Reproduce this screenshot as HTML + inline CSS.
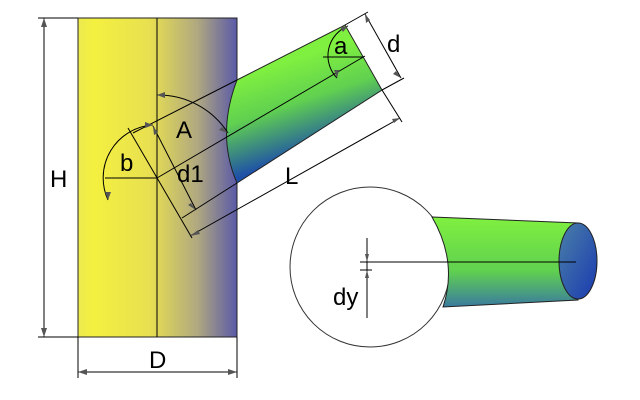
<!DOCTYPE html>
<html><head><style>body{margin:0;background:#fff}svg{display:block}text{font-family:"Liberation Sans",sans-serif;fill:#000}</style></head><body>
<svg width="640" height="400" viewBox="0 0 640 400" xmlns="http://www.w3.org/2000/svg">
<defs>
<linearGradient id="cyl" x1="0" y1="0" x2="1" y2="0">
<stop offset="0" stop-color="#ecea50"/><stop offset="0.1" stop-color="#f4f040"/><stop offset="0.45" stop-color="#e8e050"/><stop offset="0.75" stop-color="#b0a880"/><stop offset="1" stop-color="#5a5aa8"/></linearGradient>
<linearGradient id="br" gradientUnits="userSpaceOnUse" x1="290" y1="60" x2="320" y2="150">
<stop offset="0" stop-color="#80f040"/><stop offset="0.45" stop-color="#60d050"/><stop offset="1" stop-color="#1e50a8"/></linearGradient>
<linearGradient id="sp" x1="0" y1="0" x2="0" y2="1">
<stop offset="0" stop-color="#80f040"/><stop offset="0.6" stop-color="#60d050"/><stop offset="1" stop-color="#3a7aa0"/></linearGradient>
<linearGradient id="el" x1="0" y1="0" x2="1" y2="1">
<stop offset="0" stop-color="#4a80a8"/><stop offset="1" stop-color="#1a3ab0"/></linearGradient>
</defs>
<g stroke="#000" stroke-width="1" fill="none">
<rect x="78" y="18" width="159" height="319" fill="url(#cyl)" stroke="#222"/>
<line x1="157" y1="18" x2="157" y2="337"/>
<line x1="38" y1="18" x2="78" y2="18"/><line x1="38" y1="337" x2="78" y2="337"/>
<line x1="44" y1="18" x2="44" y2="337"/>
<line x1="78" y1="337" x2="78" y2="378"/><line x1="237" y1="337" x2="237" y2="378"/>
<line x1="78" y1="372" x2="237" y2="372"/>
<path d="M237,80 L345,25 L382,90 L237,183 Q216,135 237,80 Z" fill="url(#br)" stroke="#222"/>
<line x1="157" y1="178" x2="365" y2="56"/>
<line x1="133" y1="133" x2="237" y2="80"/>
<line x1="182" y1="218" x2="237" y2="183"/>
<line x1="128" y1="128" x2="192" y2="238"/>
<line x1="153" y1="126" x2="196" y2="210"/>
<line x1="345" y1="25" x2="368" y2="12"/><line x1="382" y1="90" x2="404" y2="78"/>
<line x1="365" y1="14" x2="401" y2="78"/>
<line x1="382" y1="90" x2="402" y2="122"/>
<line x1="190" y1="236" x2="400" y2="118"/>
<path d="M157,95 A83,83 0 0 1 228,133"/>
<path d="M153,125 A53,53 0 0 0 108,200"/>
<line x1="105" y1="178" x2="157" y2="178"/>
<line x1="323" y1="57" x2="363" y2="57"/>
<path d="M348,26 A32,32 0 0 0 337,78"/>
<circle cx="370" cy="267" r="80" fill="#fff" stroke="#333"/>
<path d="M432,217 L578,223 L578,300 L443,307 Q458,262 432,217 Z" fill="url(#sp)" stroke="#222"/>
<ellipse cx="578" cy="261" rx="19" ry="38" fill="url(#el)" stroke="#222"/>
<line x1="360" y1="262" x2="576" y2="262"/>
<line x1="360" y1="270" x2="372" y2="270"/>
<line x1="367" y1="238" x2="367" y2="318"/>
</g>
<g fill="#555">
<path d="M44,18 l-3,9 l6,0z"/><path d="M44,337 l-3,-9 l6,0z"/>
<path d="M78,372 l9,-3 l0,6z"/><path d="M237,372 l-9,-3 l0,6z"/>
<path d="M365,14 l1,9 l4,-3z"/><path d="M401,78 l-5,-7 l-3,3z"/>
<path d="M190,236 l8,-6 l2,4z"/><path d="M400,118 l-8,1 l2,4z"/>
<path d="M153,126 l1,9 l4,-2z"/><path d="M196,210 l-5,-7 l-3,2z"/>
<path d="M157,95 l8,-3 l0,6z"/><path d="M228,133 l-6,-6 l-3,3z"/>
<path d="M153,125 l-8,-3 l0,6z"/><path d="M108,200 l-3,-8 l6,0z"/>
<path d="M348,26 l-8,1 l3,5z"/><path d="M337,78 l-3,-8 l5,0z"/>
<path d="M367,262 l-2,-8 l4,0z"/><path d="M367,270 l-2,8 l4,0z"/>
</g>
<g font-size="24">
<text x="50" y="187">H</text>
<text x="149" y="368">D</text>
<text x="176" y="138">A</text>
<text x="120" y="171">b</text>
<text x="177" y="182">d1</text>
<text x="285" y="184">L</text>
<text x="334" y="54">a</text>
<text x="387" y="52">d</text>
<text x="333" y="305">dy</text>
</g>
</svg>
</body></html>
